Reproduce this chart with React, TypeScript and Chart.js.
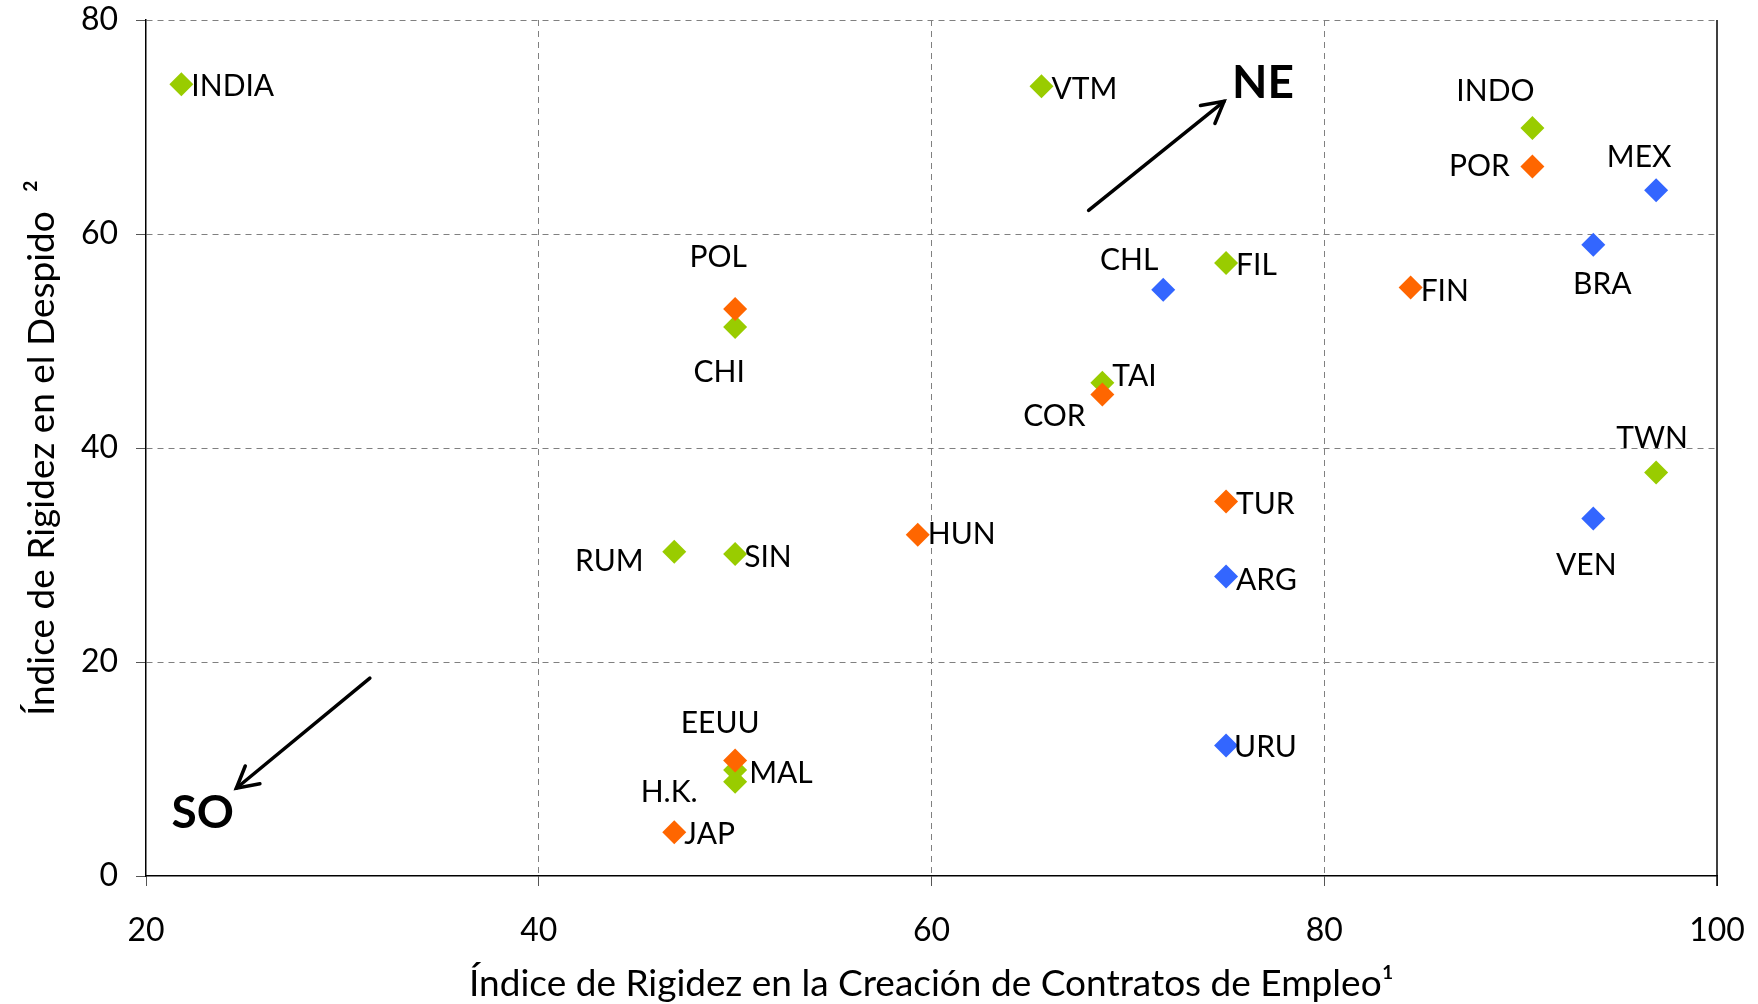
import React, { useEffect, useRef } from "react";
import { Chart, registerables } from "chart.js";

Chart.register(...registerables);

const FONT = "Lato, 'Open Sans', sans-serif";

// ---- Data ----
const greenLabels = ["INDIA", "VTM", "INDO", "FIL", "CHI", "TAI", "TWN", "RUM", "SIN", "MAL", "H.K."];
const greenX = [21.8, 65.6, 90.6, 75.0, 50.0, 68.7, 96.9, 46.9, 50.0, 50.0, 50.0];
const greenY = [74.0, 73.8, 69.9, 57.3, 51.3, 46.1, 37.7, 30.3, 30.1, 9.9, 8.8];

const orangeLabels = ["POR", "FIN", "POL", "COR", "TUR", "HUN", "EEUU", "JAP"];
const orangeX = [90.6, 84.4, 50.0, 68.7, 75.0, 59.3, 50.0, 46.9];
const orangeY = [66.3, 55.0, 53.0, 45.0, 35.0, 31.9, 10.8, 4.1];

const blueLabels = ["MEX", "BRA", "CHL", "VEN", "ARG", "URU"];
const blueX = [96.9, 93.7, 71.8, 93.7, 75.0, 75.0];
const blueY = [64.1, 59.0, 54.8, 33.4, 28.0, 12.2];

const xTicks = [20, 40, 60, 80, 100];
const yTicks = [0, 20, 40, 60, 80];

const xTitle = "Índice de Rigidez en la Creación de Contratos de Empleo¹";
const yTitle = "Índice de Rigidez en el Despido  ²";

// Quadrant annotations (in data units)
const annotationText = ["NE", "SO"];
const annotationX = [75.3, 21.3];
const annotationY = [74.1, 5.9];
const arrowFromX = [68.0, 31.4];
const arrowFromY = [62.2, 18.5];
const arrowToX = [74.9, 24.6];
const arrowToY = [72.4, 8.2];

// ---- Label placement (presentation only): [align, dx, dy] in px ----
const greenLabelPlace: [CanvasTextAlign, number, number][] = [
  ["left", 10, 2], ["left", 10, 3], ["center", -37, -37], ["left", 10, 2],
  ["center", -16, 45], ["left", 10, -6], ["center", -4, -34], ["center", -65, 10],
  ["left", 9, 3], ["left", 14, 3], ["center", -66, 10],
];
const orangeLabelPlace: [CanvasTextAlign, number, number][] = [
  ["center", -53, 0], ["left", 10, 4], ["center", -17, -52], ["center", -48, 22],
  ["left", 10, 3], ["left", 10, 0], ["center", -15, -37], ["left", 10, 2],
];
const blueLabelPlace: [CanvasTextAlign, number, number][] = [
  ["center", -17, -33], ["center", 9, 40], ["center", -34, -29], ["center", -7, 47],
  ["left", 10, 4], ["left", 8, 2],
];

const GREEN = "#99CC00";
const ORANGE = "#FF6600";
const BLUE = "#3366FF";

const toPoints = (xs: number[], ys: number[]) => xs.map((x, i) => ({ x, y: ys[i] }));

const labelsPlugin = {
  id: "pointLabels",
  afterDatasetsDraw(chart: any) {
    const ctx = chart.ctx as CanvasRenderingContext2D;
    const sets = [
      { labels: orangeLabels, place: orangeLabelPlace },
      { labels: blueLabels, place: blueLabelPlace },
      { labels: greenLabels, place: greenLabelPlace },
    ];
    ctx.save();
    ctx.fillStyle = "#000";
    ctx.font = `30px ${FONT}`;
    ctx.textBaseline = "middle";
    sets.forEach((s, di) => {
      const meta = chart.getDatasetMeta(di);
      meta.data.forEach((el: any, i: number) => {
        const [align, dx, dy] = s.place[i];
        ctx.textAlign = align;
        ctx.fillText(s.labels[i], el.x + dx, el.y + dy);
      });
    });
    ctx.restore();
  },
};

const annotationPlugin = {
  id: "quadrantArrows",
  afterDatasetsDraw(chart: any) {
    const ctx = chart.ctx as CanvasRenderingContext2D;
    const xs = chart.scales.x;
    const ys = chart.scales.y;
    const area = chart.chartArea;
    ctx.save();
    // solid right border of plot area
    ctx.strokeStyle = "#000";
    ctx.lineWidth = 1.5;
    ctx.beginPath();
    ctx.moveTo(area.right, area.top);
    ctx.lineTo(area.right, area.bottom + 10);
    ctx.stroke();

    for (let i = 0; i < annotationText.length; i++) {
      const x1 = xs.getPixelForValue(arrowFromX[i]);
      const y1 = ys.getPixelForValue(arrowFromY[i]);
      const x2 = xs.getPixelForValue(arrowToX[i]);
      const y2 = ys.getPixelForValue(arrowToY[i]);
      ctx.strokeStyle = "#000";
      ctx.lineWidth = 3.5;
      ctx.lineCap = "round";
      ctx.beginPath();
      ctx.moveTo(x1, y1);
      ctx.lineTo(x2, y2);
      ctx.stroke();
      const ang = Math.atan2(y2 - y1, x2 - x1);
      const hl = 24;
      const spread = 0.5;
      ctx.beginPath();
      ctx.moveTo(x2 - hl * Math.cos(ang - spread), y2 - hl * Math.sin(ang - spread));
      ctx.lineTo(x2, y2);
      ctx.lineTo(x2 - hl * Math.cos(ang + spread), y2 - hl * Math.sin(ang + spread));
      ctx.stroke();

      ctx.fillStyle = "#000";
      ctx.font = `bold 46px ${FONT}`;
      ctx.textAlign = "left";
      ctx.textBaseline = "middle";
      ctx.fillText(annotationText[i], xs.getPixelForValue(annotationX[i]), ys.getPixelForValue(annotationY[i]));
    }
    ctx.restore();
  },
};

const zeroPadding = (s: any) => {
  s.paddingTop = 0;
  s.paddingBottom = 0;
  s.paddingLeft = 0;
  s.paddingRight = 0;
};

export default function App() {
  const ref = useRef<HTMLCanvasElement | null>(null);

  useEffect(() => {
    document.body.style.margin = "0";
    const canvas = ref.current;
    if (!canvas) return;
    const pointOpts = {
      pointStyle: "rectRot" as const,
      pointRadius: 12,
      pointHoverRadius: 12,
      borderWidth: 0,
      showLine: false,
    };
    const chart = new Chart(canvas, {
      type: "scatter",
      data: {
        datasets: [
          { label: "B", data: toPoints(orangeX, orangeY), backgroundColor: ORANGE, borderColor: ORANGE, ...pointOpts },
          { label: "C", data: toPoints(blueX, blueY), backgroundColor: BLUE, borderColor: BLUE, ...pointOpts },
          { label: "A", data: toPoints(greenX, greenY), backgroundColor: GREEN, borderColor: GREEN, ...pointOpts },
        ],
      },
      options: {
        responsive: false,
        animation: false,
        devicePixelRatio: 1,
        layout: { padding: { top: 20, right: 41, left: 0, bottom: 0 } },
        plugins: {
          legend: { display: false },
          tooltip: { enabled: false },
        },
        scales: {
          x: {
            type: "linear",
            min: 20,
            max: 100,
            afterFit: (s: any) => { s.height = 128; zeroPadding(s); },
            afterBuildTicks: (s: any) => { s.ticks = xTicks.map((v) => ({ value: v })); },
            ticks: {
              color: "#000",
              font: { family: FONT, size: 32 },
              padding: 25,
            },
            grid: {
              color: (c: any) => (c.tick && (c.tick.value === 20 || c.tick.value === 100) ? "rgba(0,0,0,0)" : "#808080"),
              lineWidth: 1,
              tickLength: 10,
              tickColor: "#555",
              tickWidth: 1,
            },
            border: { display: true, color: "#000", width: 1.5, dash: [6, 5] },
            title: {
              display: true,
              text: xTitle,
              color: "#000",
              font: { family: FONT, size: 37, lineHeight: 1.1 },
              padding: { top: 0, bottom: 0 },
            },
          },
          y: {
            type: "linear",
            min: 0,
            max: 80,
            afterFit: (s: any) => { s.width = 146; zeroPadding(s); },
            afterBuildTicks: (s: any) => { s.ticks = yTicks.map((v) => ({ value: v })); },
            ticks: {
              color: "#000",
              font: { family: FONT, size: 32 },
              padding: 18,
            },
            grid: {
              color: (c: any) => (c.tick && c.tick.value === 0 ? "rgba(0,0,0,0)" : "#808080"),
              lineWidth: 1,
              tickLength: 10,
              tickColor: "#555",
              tickWidth: 1,
            },
            border: { display: true, color: "#000", width: 1.5, dash: [6, 5] },
            title: {
              display: true,
              text: yTitle,
              color: "#000",
              font: { family: FONT, size: 37, lineHeight: 1.1 },
              padding: { top: 22, bottom: 0 },
            },
          },
        },
      },
      plugins: [annotationPlugin, labelsPlugin],
    });
    return () => chart.destroy();
  }, []);

  return <canvas ref={ref} width={1758} height={1004} style={{ display: "block" }} />;
}
